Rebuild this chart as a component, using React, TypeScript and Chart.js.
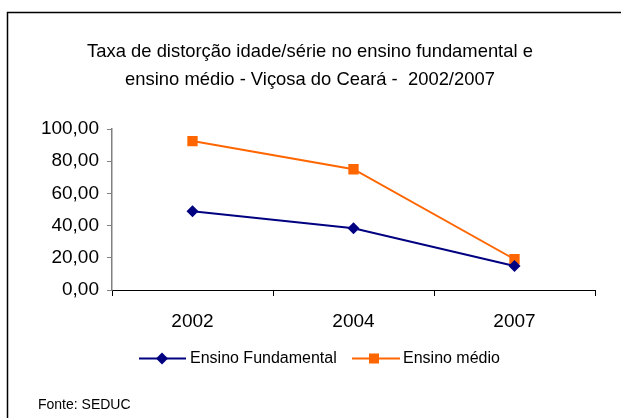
import React, { useEffect, useRef } from "react";
import { Chart, registerables } from "chart.js";

Chart.register(...registerables);

const categories = ["2002", "2004", "2007"];
const fundamental = [48.9, 38.3, 14.9];
const medio = [92.5, 75.0, 19.1];
const yTicks = [0, 20, 40, 60, 80, 100];
const titleLines = [
  "Taxa de distorção idade/série no ensino fundamental e",
  "ensino médio - Viçosa do Ceará -  2002/2007",
];
const seriesNames = ["Ensino Fundamental", "Ensino médio"];
const sourceText = "Fonte: SEDUC";

const FONT = "'Liberation Sans', Arial, sans-serif";
const NAVY = "#000080";
const ORANGE = "#FF6600";

const decor = {
  id: "decor",
  afterDraw(chart: any) {
    const ctx = chart.ctx as CanvasRenderingContext2D;
    ctx.save();
    // frame
    ctx.strokeStyle = "#000";
    ctx.lineWidth = 1.5;
    ctx.beginPath();
    ctx.moveTo(7.5, 418);
    ctx.lineTo(7.5, 12.5);
    ctx.lineTo(621, 12.5);
    ctx.stroke();

    // title
    ctx.fillStyle = "#000";
    ctx.font = `18.4px ${FONT}`;
    ctx.textAlign = "center";
    ctx.textBaseline = "alphabetic";
    ctx.fillText(titleLines[0], 310, 56.5);
    ctx.fillText(titleLines[1], 310, 84.5);

    // legend
    const ly = 358.5;
    const drawLine = (x1: number, x2: number, c: string) => {
      ctx.strokeStyle = c;
      ctx.lineWidth = 2;
      ctx.beginPath();
      ctx.moveTo(x1, ly);
      ctx.lineTo(x2, ly);
      ctx.stroke();
    };
    drawLine(139, 186, NAVY);
    ctx.fillStyle = NAVY;
    ctx.beginPath();
    ctx.moveTo(162, ly - 6);
    ctx.lineTo(168, ly);
    ctx.lineTo(162, ly + 6);
    ctx.lineTo(156, ly);
    ctx.closePath();
    ctx.fill();
    drawLine(352, 400, ORANGE);
    ctx.fillStyle = ORANGE;
    ctx.fillRect(369, ly - 5, 10, 10);

    ctx.fillStyle = "#000";
    ctx.font = `16px ${FONT}`;
    ctx.textAlign = "left";
    ctx.textBaseline = "middle";
    ctx.fillText(seriesNames[0], 190, ly);
    ctx.fillText(seriesNames[1], 403, ly);

    // source
    ctx.font = `14px ${FONT}`;
    ctx.fillText(sourceText, 38, 405);
    ctx.restore();
  },
};

export default function App() {
  const ref = useRef<HTMLCanvasElement>(null);
  useEffect(() => {
    if (!ref.current) return;
    const chart = new Chart(ref.current, {
      type: "line",
      data: {
        labels: categories,
        datasets: [
          {
            label: seriesNames[0],
            data: fundamental,
            borderColor: NAVY,
            backgroundColor: NAVY,
            borderWidth: 2,
            pointStyle: "rectRot",
            pointRadius: 6,
            pointBorderWidth: 0,
            tension: 0,
          },
          {
            label: seriesNames[1],
            data: medio,
            borderColor: ORANGE,
            backgroundColor: ORANGE,
            borderWidth: 2,
            pointStyle: "rect",
            pointRadius: 7.3,
            pointBorderWidth: 0,
            tension: 0,
          },
        ],
      },
      plugins: [decor],
      options: {
        responsive: false,
        animation: false,
        devicePixelRatio: 1,
        layout: { padding: { top: 129, right: 26, left: 0, bottom: 0 } },
        plugins: {
          legend: { display: false },
          title: { display: false },
          tooltip: { enabled: false },
        },
        scales: {
          x: {
            type: "category",
            offset: true,
            grid: {
              display: true,
              offset: true,
              drawOnChartArea: false,
              drawTicks: true,
              tickLength: 6,
              color: "#000",
            },
            border: { display: true, color: "#000", width: 1 },
            ticks: {
              color: "#000",
              font: { family: FONT, size: 19 },
              padding: 14,
            },
            afterFit: (s: any) => {
              s.height = 128;
            },
          },
          y: {
            min: 0,
            max: 100,
            afterBuildTicks: (s: any) => {
              s.ticks = yTicks.map((v) => ({ value: v }));
            },
            grid: {
              display: true,
              drawOnChartArea: false,
              drawTicks: true,
              tickLength: 5,
              color: "#808080",
            },
            border: { display: true, color: "#808080", width: 1.5 },
            ticks: {
              color: "#000",
              font: { family: FONT, size: 19 },
              padding: 8,
              callback: (v: any) => Number(v).toFixed(2).replace(".", ","),
            },
            afterFit: (s: any) => {
              s.width = 112;
            },
          },
        },
      },
    });
    return () => chart.destroy();
  }, []);
  return (
    <div style={{ position: "absolute", left: 0, top: 0, width: 621, height: 418, background: "#fff" }}>
      <canvas ref={ref} width={621} height={418} style={{ display: "block" }} />
    </div>
  );
}
